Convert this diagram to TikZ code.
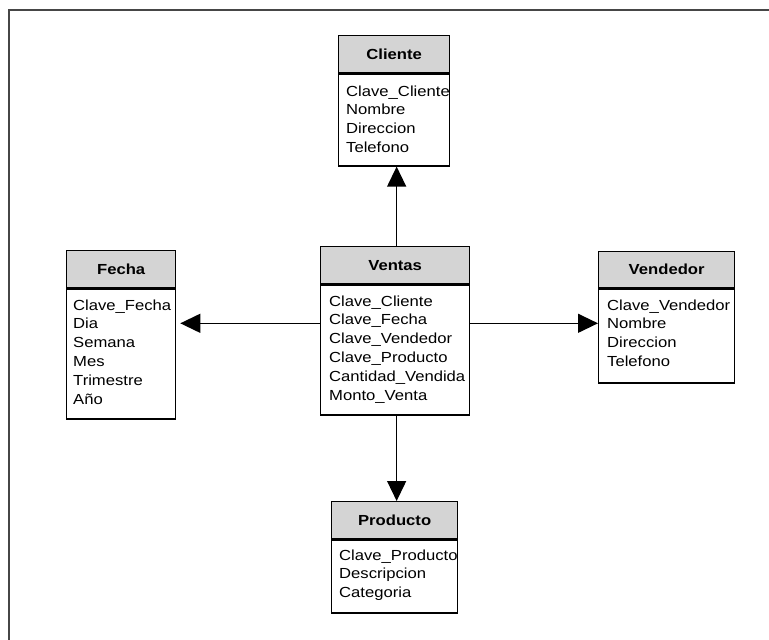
\documentclass[tikz,border=0pt]{standalone}
\usepackage{fontspec}
\usetikzlibrary{arrows.meta}
\newfontfamily\tblfont[FakeStretch=1.14]{Liberation Sans}
\definecolor{hdrgray}{RGB}{212,212,212}
\definecolor{framegray}{RGB}{70,70,70}
\begin{document}
\begin{tikzpicture}[x=1pt,y=-1pt,
  hdr/.style={draw, line width=1.3pt, fill=hdrgray, inner sep=0pt, anchor=north west,
    font=\tblfont\bfseries\fontsize{14.6}{18.8}\selectfont},
  tblbody/.style={draw, line width=1.3pt, inner sep=0pt, anchor=north west},
  fields/.style={inner sep=0pt, anchor=north west, align=left,
    font=\tblfont\fontsize{14.6}{18.8}\selectfont},
  link/.style={line width=1.3pt, -{Triangle[length=20pt,width=19pt]}}]
\useasboundingbox (0,0) rectangle (769,640);

% outer frame (left and top edges)
\draw[framegray, line width=2pt] (9,640) -- (9,10) -- (769,10);

% Cliente
\node[hdr, minimum width=111pt, minimum height=37pt] (cliH) at (338,35) {Cliente};
\node[tblbody, minimum width=111pt, minimum height=92pt] (cliB) at (cliH.south west) {};
\node[fields] (cliF) at ([xshift=8pt,yshift=-12pt]cliB.north west)
  {Clave\_Cliente\\Nombre\\Direccion\\Telefono};

% Fecha
\node[hdr, minimum width=109pt, minimum height=37pt] (fecH) at (66,250) {Fecha};
\node[tblbody, minimum width=109pt, minimum height=130pt] (fecB) at (fecH.south west) {};
\node[fields] (fecF) at ([xshift=7pt,yshift=-11pt]fecB.north west)
  {Clave\_Fecha\\Dia\\Semana\\Mes\\Trimestre\\Año};

% Ventas
\node[hdr, minimum width=149pt, minimum height=37pt] (venH) at (320,246) {Ventas};
\node[tblbody, minimum width=149pt, minimum height=130pt] (venB) at (venH.south west) {};
\node[fields] (venF) at ([xshift=9pt,yshift=-11pt]venB.north west)
  {Clave\_Cliente\\Clave\_Fecha\\Clave\_Vendedor\\Clave\_Producto\\Cantidad\_Vendida\\Monto\_Venta};

% Vendedor
\node[hdr, minimum width=136pt, minimum height=36pt] (vndH) at (598,251) {Vendedor};
\node[tblbody, minimum width=136pt, minimum height=94pt] (vndB) at (vndH.south west) {};
\node[fields] (vndF) at ([xshift=9pt,yshift=-11pt]vndB.north west)
  {Clave\_Vendedor\\Nombre\\Direccion\\Telefono};

% Producto
\node[hdr, minimum width=126pt, minimum height=37pt] (proH) at (331,501) {Producto};
\node[tblbody, minimum width=126pt, minimum height=73pt] (proB) at (proH.south west) {};
\node[fields] (proF) at ([xshift=8pt,yshift=-10pt]proB.north west)
  {Clave\_Producto\\Descripcion\\Categoria};

% relations from the fact table to the dimensions
\coordinate (midL) at ([yshift=-39pt]venB.north west);
\coordinate (midR) at ([yshift=-39pt]venB.north east);
\draw[link] ([xshift=1.5pt]venH.north) -- ([xshift=1.5pt]venH.north |- cliB.south);
\draw[link, shorten >=4pt] (midL) -- (midL -| fecB.east);
\draw[link] (midR) -- (midR -| vndB.west);
\draw[link] ([xshift=1.5pt]venB.south) -- ([xshift=1.5pt]venB.south |- proH.north);
\end{tikzpicture}
\end{document}
